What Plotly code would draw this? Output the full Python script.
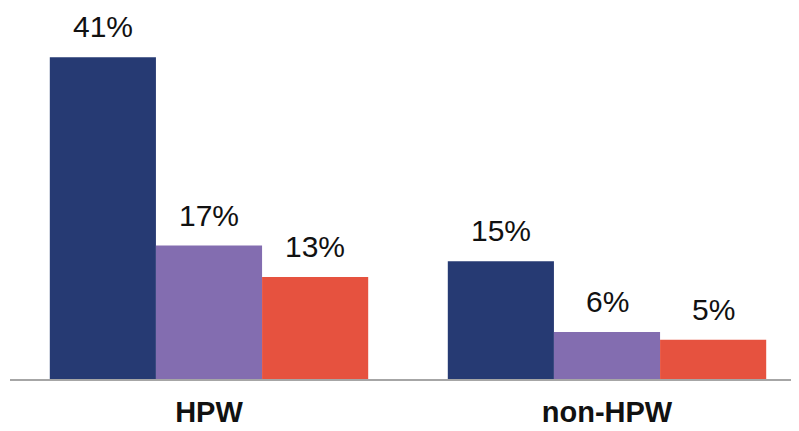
import plotly.graph_objects as go

categories = ["HPW", "non-HPW"]
series_names = ["A", "B", "C"]
values_a = [41, 15]
values_b = [17, 6]
values_c = [13, 5]
colors = ["#263a73", "#836db0", "#e6523f"]

series = [values_a, values_b, values_c]
fig = go.Figure()
for name, vals, col in zip(series_names, series, colors):
    fig.add_trace(go.Bar(x=categories, y=vals, name=name, marker_color=col,
                         marker_line_width=0))

n = len(series)
gap = 0.2
bw = (1 - gap) / n
for j, vals in enumerate(series):
    for i, v in enumerate(vals):
        fig.add_annotation(x=i + (j - (n - 1) / 2) * bw, y=v, xref="x", yref="y",
                           text=f"{v}%", showarrow=False, yanchor="bottom",
                           yshift=12,
                           font=dict(family="Liberation Sans, Arial", size=30, color="#111111"))

fig.update_layout(
    width=791, height=423,
    margin=dict(l=2, r=0, t=0, b=52, autoexpand=False),
    plot_bgcolor="white", paper_bgcolor="white",
    barmode="group", bargap=gap, bargroupgap=0,
    showlegend=False,
    xaxis=dict(range=[-0.5, -0.5 + 789 / 398], showline=True, linecolor="#a6a6a6",
               linewidth=2, ticks="", showgrid=False, zeroline=False, automargin=False,
               tickfont=dict(family="Liberation Sans, Arial", size=29, color="#111111",
                             weight="bold"),
               ticklabelstandoff=6),
    yaxis=dict(range=[0, 371 / 7.85], visible=False, showgrid=False, zeroline=False,
               automargin=False),
)
fig.write_html("out.html")
